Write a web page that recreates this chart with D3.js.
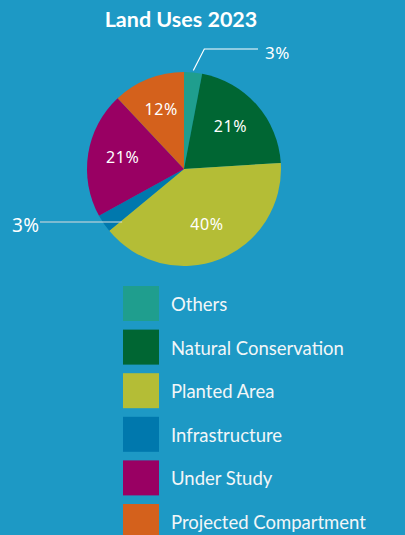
<!DOCTYPE html>
<html>
<head>
<meta charset="utf-8">
<script src="https://cdn.jsdelivr.net/npm/d3@7"></script>
<style>
  body { margin: 0; background: #1d99c5; }
  svg { display: block; }
</style>
</head>
<body>
<svg id="chart" width="405" height="535"></svg>
<script>
// data
var categories = ["Others", "Natural Conservation", "Planted Area", "Infrastructure", "Under Study", "Projected Compartment"];
var values = [3, 21, 40, 3, 21, 12];
var colors = ["#1f9e8e", "#006633", "#b4bd36", "#0078ad", "#990063", "#d4611c"];

var svg = d3.select("#chart");
var cx = 184, cy = 169, radius = 97;

// title
svg.append("text")
  .attr("x", 181).attr("y", 27)
  .attr("text-anchor", "middle")
  .attr("fill", "#fff")
  .style("font-family", "Lato, sans-serif")
  .style("font-weight", "bold")
  .style("font-size", "21.5px")
  .text("Land Uses 2023");

var pie = d3.pie().sort(null).value(function(d) { return d; });
var arc = d3.arc().innerRadius(0).outerRadius(radius);
var labelArc = d3.arc().innerRadius(radius * 0.64).outerRadius(radius * 0.64);
var arcs = pie(values);

var g = svg.append("g").attr("transform", "translate(" + cx + "," + cy + ")");

g.selectAll("path")
  .data(arcs)
  .enter()
  .append("path")
  .attr("d", arc)
  .attr("fill", function(d, i) { return colors[i]; });

// labels inside big slices
g.selectAll("text.inner")
  .data(arcs.filter(function(d) { return d.value > 5; }))
  .enter()
  .append("text")
  .attr("class", "inner")
  .attr("transform", function(d) {
    var c = labelArc.centroid(d);
    return "translate(" + c[0] + "," + (c[1] - 2) + ")";
  })
  .attr("text-anchor", "middle")
  .attr("dy", "0.35em")
  .attr("fill", "#fff")
  .style("font-family", "'Noto Sans', sans-serif")
  .style("font-size", "16px")
  .style("letter-spacing", "0.6px")
  .text(function(d) { return d.value + "%"; });

// callouts for small slices
var edgeArc = d3.arc().innerRadius(radius * 1.02).outerRadius(radius * 1.02);
// Others: up and to the right
var p0 = edgeArc.centroid(arcs[0]);
g.append("polyline")
  .attr("points", [p0, [p0[0] + 11, -120], [74, -120]].join(" "))
  .attr("fill", "none").attr("stroke", "#fff").attr("stroke-width", 1.2);
g.append("text")
  .attr("x", 81).attr("y", -110)
  .attr("fill", "#fff")
  .style("font-family", "'Noto Sans', sans-serif")
  .style("font-size", "17px")
  .style("letter-spacing", "0.5px")
  .text(values[0] + "%");
// Infrastructure: to the left
var p3 = edgeArc.centroid(arcs[3]);
g.append("line")
  .attr("x1", p3[0] + 20).attr("y1", 53)
  .attr("x2", -144).attr("y2", 53)
  .attr("stroke", "#ddd").attr("stroke-width", 1.2);
g.append("text")
  .attr("x", -172).attr("y", 63)
  .attr("fill", "#fff")
  .style("font-family", "'Noto Sans', sans-serif")
  .style("font-size", "19px")
  .style("letter-spacing", "0.5px")
  .text(values[3] + "%");

// legend
var legend = svg.selectAll("g.legend")
  .data(categories)
  .enter()
  .append("g")
  .attr("class", "legend")
  .attr("transform", function(d, i) { return "translate(123," + (286 + i * 43.6) + ")"; });

legend.append("rect")
  .attr("width", 36).attr("height", 35)
  .attr("fill", function(d, i) { return colors[i]; });

legend.append("text")
  .attr("x", 48).attr("y", 25)
  .attr("fill", "#f2f6f8")
  .style("font-family", "Lato, sans-serif")
  .style("font-size", "18.5px")
  .text(function(d) { return d; });
</script>
</body>
</html>
